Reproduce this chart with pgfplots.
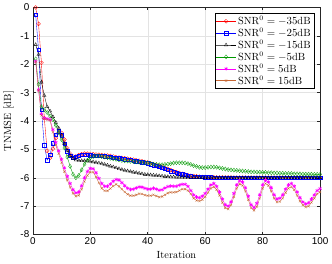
\documentclass[border=0pt]{standalone}
\usepackage{fontspec}
\usepackage{pgfplots}
\pgfplotsset{compat=1.18}
\usepackage{pgfplotstable}
\newfontfamily\ticfont{Liberation Sans}
\definecolor{mred}{rgb}{1,0,0}
\definecolor{mblue}{rgb}{0,0,1}
\definecolor{mgreen}{rgb}{0,0.6,0}
\definecolor{mmag}{rgb}{1,0,1}
\definecolor{mbrown}{rgb}{0.78,0.4,0.2}
\pgfplotstableread{
it r b k g m br
1 0 -0.26 -1.31 -1.81 -1.9 -1.92
2 -0.58 -1.49 -1.66 -2.71 -2.9 -2.92
3 -1.95 -3.6 -2.63 -3.5 -3.75 -3.8
4 -3.9 -4.85 -3.1 -3.6 -3.9 -3.92
5 -5.05 -5.38 -3.5 -3.7 -3.92 -3.95
6 -5.3 -5.18 -3.65 -3.82 -3.95 -3.98
7 -4.98 -4.78 -3.85 -3.95 -4.3 -4.4
8 -4.6 -4.48 -4.05 -4.15 -4.75 -4.85
9 -4.4 -4.36 -4.25 -4.4 -5.05 -5.15
10 -4.42 -4.5 -4.5 -4.65 -5.35 -5.47
11 -4.65 -4.8 -4.8 -4.95 -5.65 -5.78
12 -4.95 -5.06 -5.05 -5.27 -5.95 -6.08
13 -5.15 -5.23 -5.22 -5.6 -6.2 -6.33
14 -5.25 -5.3 -5.32 -5.88 -6.42 -6.55
15 -5.25 -5.26 -5.37 -6.0 -6.53 -6.65
16 -5.2 -5.21 -5.39 -5.92 -6.5 -6.62
17 -5.17 -5.19 -5.4 -5.72 -6.28 -6.4
18 -5.15 -5.18 -5.4 -5.52 -6.0 -6.13
19 -5.15 -5.19 -5.41 -5.38 -5.78 -5.92
20 -5.16 -5.2 -5.42 -5.3 -5.67 -5.8
21 -5.17 -5.21 -5.44 -5.25 -5.68 -5.8
22 -5.18 -5.21 -5.46 -5.23 -5.82 -5.97
23 -5.19 -5.22 -5.48 -5.23 -6.02 -6.18
24 -5.2 -5.23 -5.5 -5.25 -6.2 -6.37
25 -5.21 -5.24 -5.53 -5.27 -6.3 -6.46
26 -5.22 -5.25 -5.56 -5.29 -6.3 -6.46
27 -5.23 -5.26 -5.59 -5.31 -6.22 -6.38
28 -5.25 -5.28 -5.62 -5.33 -6.12 -6.29
29 -5.27 -5.3 -5.65 -5.35 -6.06 -6.23
30 -5.29 -5.31 -5.68 -5.37 -6.08 -6.3
31 -5.3 -5.33 -5.71 -5.39 -6.17 -6.4
32 -5.31 -5.34 -5.74 -5.4 -6.28 -6.5
33 -5.33 -5.36 -5.76 -5.41 -6.37 -6.58
34 -5.35 -5.37 -5.78 -5.42 -6.41 -6.63
35 -5.36 -5.39 -5.8 -5.43 -6.4 -6.63
36 -5.38 -5.41 -5.82 -5.44 -6.36 -6.6
37 -5.4 -5.43 -5.84 -5.45 -6.32 -6.56
38 -5.42 -5.45 -5.86 -5.46 -6.33 -6.57
39 -5.44 -5.47 -5.88 -5.47 -6.37 -6.61
40 -5.46 -5.49 -5.89 -5.48 -6.4 -6.63
41 -5.49 -5.52 -5.9 -5.5 -6.4 -6.63
42 -5.52 -5.55 -5.91 -5.52 -6.37 -6.6
43 -5.55 -5.58 -5.92 -5.53 -6.4 -6.64
44 -5.58 -5.61 -5.93 -5.54 -6.44 -6.68
45 -5.61 -5.64 -5.94 -5.54 -6.42 -6.66
46 -5.65 -5.68 -5.95 -5.53 -6.36 -6.6
47 -5.69 -5.72 -5.96 -5.52 -6.31 -6.54
48 -5.73 -5.76 -5.97 -5.5 -6.29 -6.51
49 -5.77 -5.79 -5.97 -5.48 -6.3 -6.51
50 -5.8 -5.82 -5.98 -5.47 -6.3 -6.5
51 -5.83 -5.85 -5.98 -5.47 -6.26 -6.45
52 -5.86 -5.87 -5.98 -5.47 -6.23 -6.4
53 -5.89 -5.9 -5.99 -5.48 -6.23 -6.4
54 -5.91 -5.92 -5.99 -5.5 -6.3 -6.45
55 -5.93 -5.94 -5.99 -5.53 -6.45 -6.57
56 -5.94 -5.95 -5.99 -5.57 -6.6 -6.72
57 -5.95 -5.96 -5.99 -5.6 -6.68 -6.8
58 -5.96 -5.97 -6.0 -5.63 -6.7 -6.82
59 -5.97 -5.97 -6.0 -5.64 -6.65 -6.77
60 -5.97 -5.98 -6.0 -5.64 -6.55 -6.67
61 -5.98 -5.98 -6.0 -5.63 -6.4 -6.52
62 -5.98 -5.98 -6.0 -5.62 -6.25 -6.37
63 -5.98 -5.99 -6.0 -5.62 -6.2 -6.32
64 -5.99 -5.99 -6.0 -5.63 -6.3 -6.42
65 -5.99 -5.99 -6.0 -5.65 -6.5 -6.62
66 -5.99 -5.99 -6.0 -5.67 -6.75 -6.87
67 -5.99 -5.99 -6.0 -5.69 -6.95 -7.06
68 -5.99 -6.0 -6.0 -5.71 -7.0 -7.1
69 -5.99 -6.0 -6.0 -5.72 -6.85 -6.96
70 -6.0 -6.0 -6.0 -5.73 -6.55 -6.67
71 -6.0 -6.0 -6.0 -5.74 -6.25 -6.37
72 -6.0 -6.0 -6.0 -5.75 -6.1 -6.22
73 -6.0 -6.0 -6.0 -5.76 -6.15 -6.27
74 -6.0 -6.0 -6.0 -5.77 -6.35 -6.47
75 -6.0 -6.0 -6.0 -5.78 -6.65 -6.77
76 -6.0 -6.0 -6.0 -5.79 -6.95 -7.06
77 -6.0 -6.0 -6.0 -5.79 -7.05 -7.15
78 -6.0 -6.0 -6.0 -5.8 -6.9 -7.01
79 -6.0 -6.0 -6.0 -5.8 -6.6 -6.72
80 -6.0 -6.0 -6.0 -5.81 -6.25 -6.37
81 -6.0 -6.0 -6.0 -5.81 -6.08 -6.2
82 -6.0 -6.0 -6.0 -5.82 -6.15 -6.27
83 -6.0 -6.0 -6.0 -5.82 -6.35 -6.47
84 -6.0 -6.0 -6.0 -5.83 -6.6 -6.72
85 -6.0 -6.0 -6.0 -5.83 -6.75 -6.86
86 -6.0 -6.0 -6.0 -5.84 -6.72 -6.84
87 -6.0 -6.0 -6.0 -5.84 -6.6 -6.72
88 -6.0 -6.0 -6.0 -5.85 -6.4 -6.52
89 -6.0 -6.0 -6.0 -5.85 -6.25 -6.37
90 -6.0 -6.0 -6.0 -5.85 -6.2 -6.32
91 -6.0 -6.0 -6.0 -5.86 -6.3 -6.42
92 -6.0 -6.0 -6.0 -5.86 -6.5 -6.62
93 -6.0 -6.0 -6.0 -5.86 -6.7 -6.82
94 -6.0 -6.0 -6.0 -5.87 -6.85 -6.96
95 -6.0 -6.0 -6.0 -5.87 -6.92 -7.03
96 -6.0 -6.0 -6.0 -5.87 -6.88 -7.0
97 -6.0 -6.0 -6.0 -5.87 -6.75 -6.87
98 -6.0 -6.0 -6.0 -5.88 -6.6 -6.72
99 -6.0 -6.0 -6.0 -5.88 -6.45 -6.57
100 -6.0 -6.0 -6.0 -5.88 -6.38 -6.5
}\data
\begin{document}
\begin{tikzpicture}
\begin{axis}[name=ax, scale only axis, width=289bp, height=228.5bp,
  xmin=0, xmax=100, ymin=-8, ymax=0,
  xtick={0,20,...,100}, ytick={-8,-7,...,0},
  grid=major, major grid style={gray!22, line width=0.4pt},
  tick align=inside, major tick length=3bp,
  axis line style={black!85, line width=0.5pt}, tick style={black!85, line width=0.5pt},
  ticklabel style={font=\ticfont\fontsize{10}{12}\selectfont},
  /pgf/number format/assume math mode=true,
  xlabel={Iteration}, ylabel={TNMSE [dB]},
  label style={font=\fontsize{10.5}{12}\selectfont},
  every axis plot/.append style={line width=0.35pt, mark size=2pt, mark options={line width=0.3pt, fill=none}},
  legend cell align=left,
  legend style={at={(rel axis cs:0.979,0.976)}, anchor=north east, draw=black, line width=0.5pt,
    fill=white, font=\fontsize{10.5}{12}\selectfont, inner sep=1.2pt, row sep=-2pt},
  legend image code/.code={\draw[mark repeat=2,mark phase=2,#1] plot coordinates {(0cm,0cm) (0.35cm,0cm) (0.7cm,0cm)};},
]
\addplot[color=mred, mark=o] table[x=it, y=r] {\data};
\addlegendentry{SNR$^0=-35$dB}
\addplot[color=mblue, mark=square, mark size=1.7pt] table[x=it, y=b] {\data};
\addlegendentry{SNR$^0=-25$dB}
\addplot[color=black, mark=triangle] table[x=it, y=k] {\data};
\addlegendentry{SNR$^0=-15$dB}
\addplot[color=mgreen, mark=diamond, mark size=2.1pt] table[x=it, y=g] {\data};
\addlegendentry{SNR$^0=-5$dB}
\addplot[color=mmag, mark=asterisk, mark size=1.9pt, mark options={line width=0.6pt}] table[x=it, y=m] {\data};
\addlegendentry{SNR$^0=5$dB}
\addplot[color=mbrown, mark=x, mark size=1.6pt] table[x=it, y=br] {\data};
\addlegendentry{SNR$^0=15$dB}
\end{axis}
\path ([xshift=-31bp,yshift=-29bp]ax.south west) rectangle ([xshift=12bp,yshift=7.5bp]ax.north east);
\end{tikzpicture}
\end{document}
